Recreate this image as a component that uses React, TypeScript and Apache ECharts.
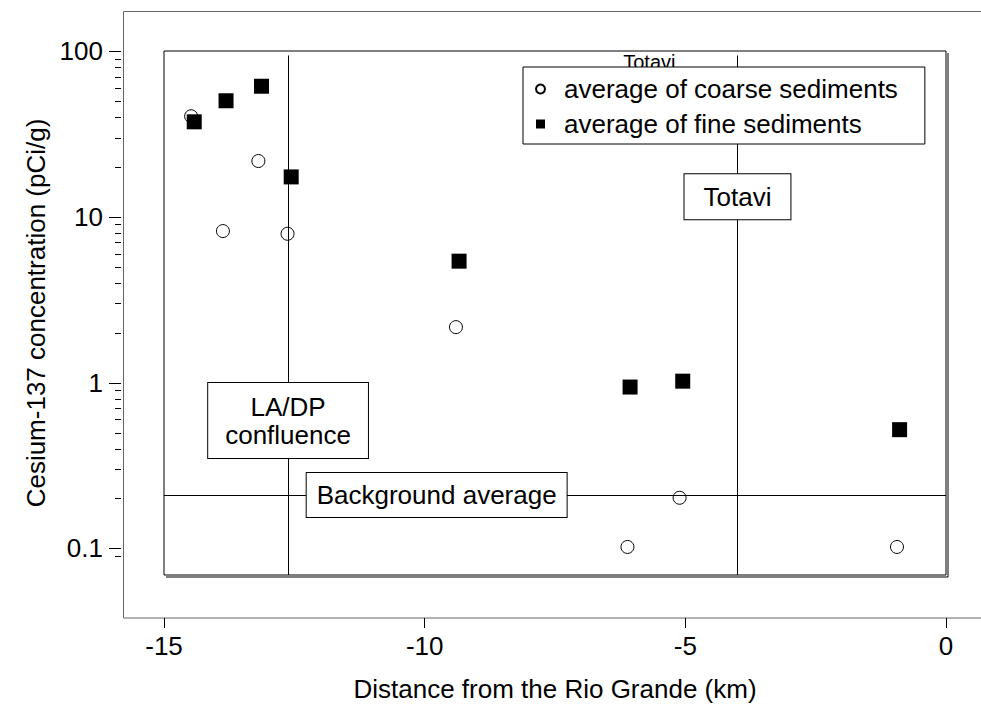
import React, { useEffect, useRef } from "react";
import * as echarts from "echarts";

const FONT = "'Liberation Sans', Arial, sans-serif";

const coarseX = [-14.48, -13.87, -13.19, -12.63, -9.4, -6.11, -5.11, -0.94];
const coarseY = [40.4, 8.2, 21.7, 7.9, 2.16, 0.102, 0.202, 0.102];
const fineX = [-14.42, -13.81, -13.13, -12.56, -9.34, -6.06, -5.05, -0.89];
const fineY = [37.4, 50.1, 61.3, 17.4, 5.4, 0.94, 1.02, 0.52];

const majorTicks = [0.1, 1, 10, 100];
const minorTicks = [
  0.09,
  0.2, 0.3, 0.4, 0.5, 0.6, 0.7, 0.8, 0.9,
  2, 3, 4, 5, 6, 7, 8, 9,
  20, 30, 40, 50, 60, 70, 80, 90,
];

const xMin = -15;
const xMax = 0;
const xStep = 5;
const yMin = 0.0691;
const yMax = 100;
const refTop = 94;

const laDpX = -12.62;
const totaviX = -4;
const backgroundY = 0.21;

const coarseName = "average of coarse sediments";
const fineName = "average of fine sediments";

export default function App() {
  const ref = useRef<HTMLDivElement>(null);

  useEffect(() => {
    if (!ref.current) return;
    const chart = echarts.init(ref.current, null, { renderer: "svg" });

    const fmt = (v: number) =>
      v >= 1 ? String(Math.round(v)) : String(+Number(v).toPrecision(2));

    const tickData = [
      ...majorTicks.map((v) => [xMin, v, 12]),
      ...minorTicks.map((v) => [xMin, v, 6]),
    ];

    chart.setOption({
      animation: false,
      backgroundColor: "#fff",
      textStyle: { fontFamily: FONT },
      grid: {
        left: 164,
        top: 51,
        right: 35,
        bottom: 138,
        show: true,
        borderColor: "#000",
        borderWidth: 1,
        backgroundColor: "transparent",
      },
      graphic: [
        {
          type: "rect",
          z: 0,
          silent: true,
          shape: { x: 123.5, y: 11.5, width: 900, height: 606.5 },
          style: { fill: "none", stroke: "#666", lineWidth: 1 },
        },
        {
          type: "polyline",
          z: 0,
          silent: true,
          shape: {
            points: [
              [166, 577],
              [948, 577],
              [948, 53],
            ],
          },
          style: { fill: "none", stroke: "#000", lineWidth: 1 },
        },
      ],
      legend: {
        orient: "vertical",
        left: 523,
        top: 67,
        z: 10,
        selectedMode: false,
        data: [coarseName, fineName],
        backgroundColor: "#fff",
        borderColor: "#000",
        borderWidth: 1,
        padding: [7, 27, 5, 12],
        itemGap: 5,
        itemWidth: 9,
        itemHeight: 9,
        textStyle: {
          fontSize: 26,
          color: "#000",
          fontFamily: FONT,
          lineHeight: 30,
          padding: [0, 0, 0, 14],
        },
      },
      xAxis: {
        type: "value",
        min: xMin,
        max: xMax,
        interval: xStep,
        position: "bottom",
        offset: 43,
        axisLine: { show: false },
        axisTick: { show: true, length: 10, lineStyle: { color: "#000", width: 1 } },
        axisLabel: { fontSize: 26, color: "#000", margin: 15, fontFamily: FONT },
        splitLine: { show: false },
        name: "Distance from the Rio Grande (km)",
        nameLocation: "middle",
        nameGap: 58,
        nameTextStyle: { fontSize: 26, color: "#000", fontFamily: FONT },
      },
      yAxis: {
        type: "log",
        min: yMin,
        max: yMax,
        position: "left",
        offset: 43,
        axisLine: { show: false },
        axisTick: { show: false },
        axisLabel: {
          customValues: majorTicks,
          margin: 18,
          fontSize: 26,
          color: "#000",
          fontFamily: FONT,
          formatter: fmt,
        },
        minorTick: { show: false },
        splitLine: { show: false },
        name: "Cesium-137 concentration (pCi/g)",
        nameLocation: "middle",
        nameGap: 67,
        nameTextStyle: { fontSize: 26, color: "#000", fontFamily: FONT },
      },
      series: [
        {
          name: "y ticks",
          type: "custom",
          silent: true,
          clip: false,
          z: 1,
          data: tickData,
          renderItem: (_params: any, api: any) => {
            const p = api.coord([api.value(0), api.value(1)]);
            const len = api.value(2);
            const y = Math.round(p[1]) + 0.5;
            return {
              type: "line",
              shape: { x1: p[0] - 43 - len, y1: y, x2: p[0] - 43, y2: y },
              style: { stroke: "#000", lineWidth: 1 },
            };
          },
        },
        {
          name: "refs",
          type: "scatter",
          data: [],
          silent: true,
          markLine: {
            z: 1,
            silent: true,
            symbol: ["none", "none"],
            label: { show: false },
            lineStyle: { color: "#000", width: 1, type: "solid" },
            data: [
              [{ coord: [laDpX, yMin] }, { coord: [laDpX, refTop] }],
              [{ coord: [totaviX, yMin] }, { coord: [totaviX, refTop] }],
              [{ coord: [xMin, backgroundY] }, { coord: [xMax, backgroundY] }],
            ],
          },
        },
        {
          name: coarseName,
          type: "scatter",
          z: 2,
          symbol: "circle",
          symbolSize: 13,
          itemStyle: {
            color: "rgba(0,0,0,0)",
            borderColor: "#000",
            borderWidth: 1,
            opacity: 1,
          },
          data: coarseX.map((x, i) => [x, coarseY[i]]),
        },
        {
          name: fineName,
          type: "scatter",
          z: 3,
          symbol: "rect",
          symbolSize: 15,
          itemStyle: { color: "#000", opacity: 1 },
          data: fineX.map((x, i) => [x, fineY[i]]),
        },
        {
          name: "labels",
          type: "scatter",
          data: [],
          silent: true,
          markPoint: {
            z: 6,
            silent: true,
            symbol: "circle",
            symbolSize: 1,
            itemStyle: { color: "rgba(0,0,0,0)" },
            label: {
              show: true,
              position: "inside",
              fontSize: 26,
              lineHeight: 28,
              color: "#000",
              fontFamily: FONT,
              backgroundColor: "#fff",
              borderColor: "#000",
              borderWidth: 1,
              align: "center",
              verticalAlign: "middle",
            },
            data: [
              {
                coord: [laDpX, 0.59],
                label: { formatter: "LA/DP\nconfluence", padding: [10, 17, 9, 17] },
              },
              {
                coord: [totaviX, 13.2],
                label: { formatter: "Totavi", padding: [9, 19, 8, 19] },
              },
              {
                coord: [-9.77, backgroundY],
                label: { formatter: "Background average", padding: [8, 10, 8, 10] },
              },
              {
                coord: [-5.69, 86],
                label: {
                  formatter: "Totavi",
                  fontSize: 20,
                  lineHeight: 22,
                  backgroundColor: "transparent",
                  borderWidth: 0,
                  padding: 0,
                },
              },
            ],
          },
        },
      ],
    });

    return () => chart.dispose();
  }, []);

  return (
    <div
      ref={ref}
      style={{ position: "fixed", left: 0, top: 0, width: 981, height: 713 }}
    />
  );
}
